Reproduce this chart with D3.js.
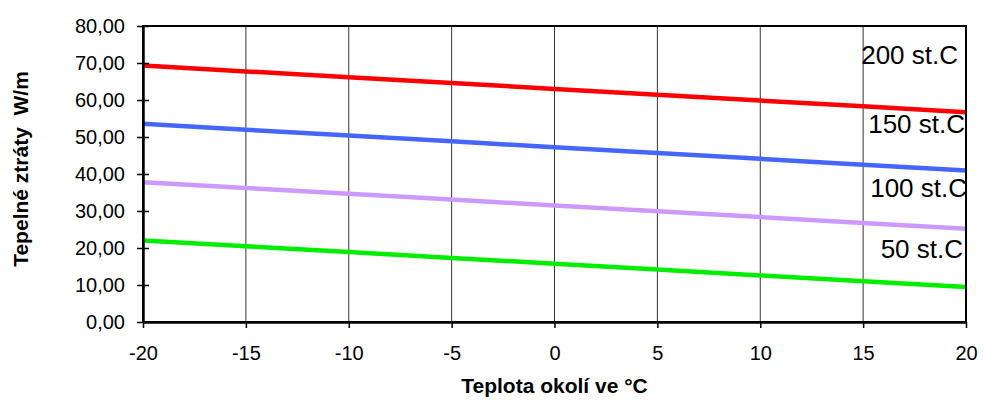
<!DOCTYPE html>
<html>
<head>
<meta charset="utf-8">
<script src="https://cdn.jsdelivr.net/npm/d3@7"></script>
<style>
  html, body { margin: 0; padding: 0; background: #fff; }
  svg { display: block; font-family: Arial, "Liberation Sans", sans-serif; }
  text { white-space: pre; }
</style>
</head>
<body>
<svg id="chart" width="983" height="401"></svg>
<script>
// Ambient temperature (°C)
const temps = [-20, -15, -10, -5, 0, 5, 10, 15, 20];
// Heat loss (W/m) per medium temperature
const loss200 = [69.30, 67.73, 66.15, 64.58, 63.00, 61.43, 59.85, 58.28, 56.70];
const loss150 = [53.55, 51.98, 50.40, 48.83, 47.25, 45.68, 44.10, 42.53, 40.95];
const loss100 = [37.80, 36.23, 34.65, 33.08, 31.50, 29.93, 28.35, 26.78, 25.20];
const loss50  = [22.05, 20.48, 18.90, 17.33, 15.75, 14.18, 12.60, 11.03, 9.45];
const seriesNames = ["200 st.C", "150 st.C", "100 st.C", "50 st.C"];
const seriesColors = ["#ff0000", "#4466ff", "#cc99ff", "#00ee00"];
const yTicks = [0, 10, 20, 30, 40, 50, 60, 70, 80];
const xTitle = "Teplota okolí ve °C";
const yTitle = "Tepelné ztráty  W/m";

const series = [loss200, loss150, loss100, loss50].map((vals, i) => ({
  name: seriesNames[i],
  color: seriesColors[i],
  values: vals.map((v, j) => ({ t: temps[j], v }))
}));

const svg = d3.select("#chart");
const margin = { left: 143, right: 17, top: 26, bottom: 79 };
const W = 983, H = 401;
const x = d3.scaleLinear().domain([-20, 20]).range([margin.left, W - margin.right]);
const y = d3.scaleLinear().domain([0, 80]).range([H - margin.bottom, margin.top]);

// vertical gridlines
svg.append("g")
  .selectAll("line")
  .data(temps.slice(1, -1))
  .join("line")
  .attr("x1", d => x(d)).attr("x2", d => x(d))
  .attr("y1", y(0)).attr("y2", y(80))
  .attr("stroke", "#000").attr("stroke-width", 0.8);

// series lines
const line = d3.line().x(d => x(d.t)).y(d => y(d.v));
svg.append("g")
  .selectAll("path")
  .data(series)
  .join("path")
  .attr("d", d => line(d.values))
  .attr("fill", "none")
  .attr("stroke", d => d.color)
  .attr("stroke-width", 4.5);

// plot frame
svg.append("rect")
  .attr("x", x(-20)).attr("y", y(80))
  .attr("width", x(20) - x(-20)).attr("height", y(0) - y(80))
  .attr("fill", "none").attr("stroke", "#000").attr("stroke-width", 2);

// y axis
const yAxis = svg.append("g")
  .attr("transform", `translate(${x(-20)},0)`)
  .call(d3.axisLeft(y).tickValues(yTicks).tickSizeInner(6).tickSizeOuter(0).tickPadding(12)
    .tickFormat(d => d3.format(".2f")(d).replace(".", ",")));
yAxis.select(".domain").attr("stroke-width", 2.5);
yAxis.selectAll(".tick line").attr("x2", 6).attr("x1", -6).attr("stroke-width", 1.5);
yAxis.selectAll("text").attr("font-size", 20).attr("fill", "#000")
  .attr("font-family", "Arial, 'Liberation Sans', sans-serif");

// x axis
const xAxis = svg.append("g")
  .attr("transform", `translate(0,${y(0)})`)
  .call(d3.axisBottom(x).tickValues(temps).tickSizeInner(6).tickSizeOuter(0).tickPadding(18)
    .tickFormat(d3.format("d")));
xAxis.select(".domain").attr("stroke-width", 2.5);
xAxis.selectAll(".tick line").attr("stroke-width", 1.5);
xAxis.selectAll("text").attr("font-size", 20).attr("fill", "#000")
  .attr("font-family", "Arial, 'Liberation Sans', sans-serif")
  .text(d => d < 0 ? "-" + Math.abs(d) : String(d));

// series labels at the right end
const labelPos = [
  { name: "200 st.C", xr: 958, yb: 64 },
  { name: "150 st.C", xr: 965, yb: 133 },
  { name: "100 st.C", xr: 967, yb: 197 },
  { name: "50 st.C", xr: 963, yb: 258 }
];
svg.append("g")
  .selectAll("text")
  .data(labelPos)
  .join("text")
  .attr("x", d => d.xr).attr("y", d => d.yb)
  .attr("text-anchor", "end")
  .attr("font-size", 26)
  .attr("fill", "#000")
  .text(d => d.name);

// axis titles
svg.append("text")
  .attr("x", (x(-20) + x(20)) / 2).attr("y", 393)
  .attr("text-anchor", "middle")
  .attr("font-size", 21).attr("font-weight", "bold")
  .text(xTitle);

svg.append("text")
  .attr("transform", `translate(28,169) rotate(-90)`)
  .attr("text-anchor", "middle")
  .attr("font-size", 21).attr("font-weight", "bold")
  .text(yTitle);
</script>
</body>
</html>
